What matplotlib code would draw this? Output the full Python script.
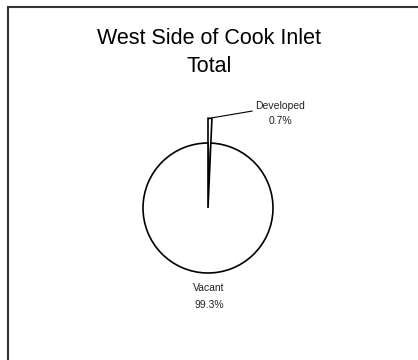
import matplotlib
matplotlib.use("Agg")
import matplotlib.pyplot as plt
from matplotlib.patches import Rectangle

plt.rcParams['font.family'] = ['Liberation Sans', 'DejaVu Sans']

title_lines = ["West Side of Cook Inlet", "Total"]
categories = ["Developed", "Vacant"]
shares = [0.7, 99.3]

W, H = 418, 360
fig = plt.figure(figsize=(W / 100, H / 100), dpi=100)
ax = fig.add_axes([0, 0, 1, 1])
ax.axis('off')

# frame (right and bottom edges fall outside the picture)
fig.patches.append(Rectangle((8 / W, -0.1), 1.2, (H - 7) / H + 0.1, transform=fig.transFigure,
                             fill=False, edgecolor='#333333', linewidth=1.5))

cx, cy, r = 208, H - 208, 65
wedges, _ = ax.pie(shares, startangle=90, counterclock=False, center=(cx, cy), radius=r,
                   colors=['white', 'white'],
                   wedgeprops=dict(edgecolor='black', linewidth=1.2))
ax.set_xlim(0, W)
ax.set_ylim(0, H)
ax.set_aspect('equal')
# the small slice is pulled out beyond the circle
wedges[0].set_radius(r * 1.38)

labels = [f"{c}\n{s:.1f}%" for c, s in zip(categories, shares)]

ax.annotate(labels[0], xy=(211, H - 118), xytext=(280, H - 113.5),
            ha='center', va='center', fontsize=7.5, color='#222222', linespacing=1.55,
            arrowprops=dict(arrowstyle='-', color='black', lw=0.8,
                            shrinkA=0, shrinkB=0, relpos=(0, 0.62)))
ax.text(209, H - 296.5, labels[1], ha='center', va='center', fontsize=7.5,
        color='#222222', linespacing=1.8)

ax.text(W / 2, H - 39, title_lines[0], ha='center', va='center', fontsize=15.5)
ax.text(W / 2, H - 66, title_lines[1], ha='center', va='center', fontsize=15.5)

fig.savefig("out.png", dpi=100)
